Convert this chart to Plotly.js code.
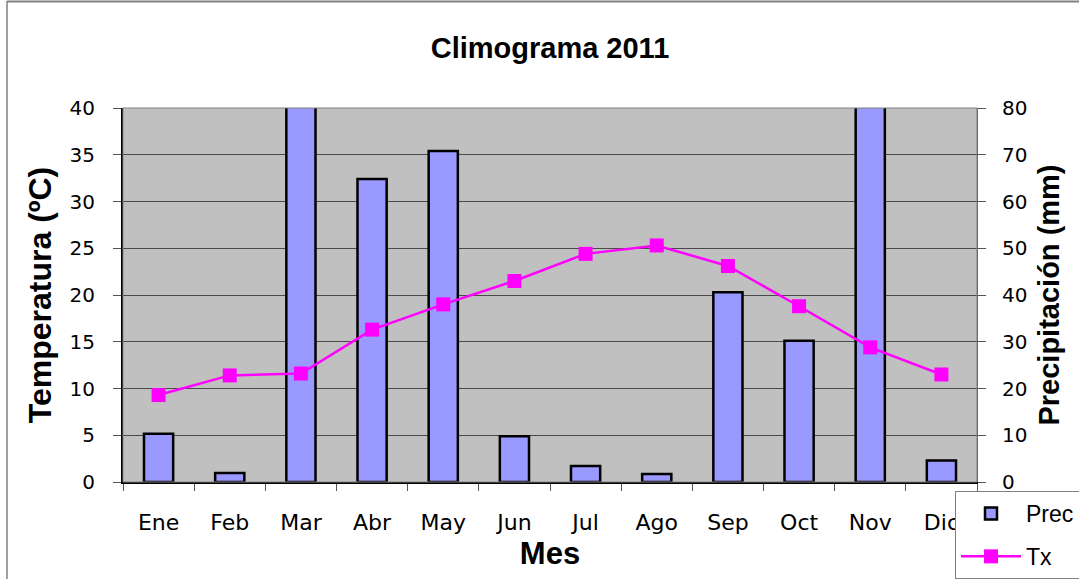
<!DOCTYPE html>
<html>
<head>
<meta charset="utf-8">
<script src="https://cdn.plot.ly/plotly-3.0.1.min.js"></script>
<style>
html,body{margin:0;padding:0;background:#fff;}
#chart{width:1079px;height:579px;}
</style>
</head>
<body>
<div id="chart"></div>
<script>
// Data
const meses = ["Ene","Feb","Mar","Abr","May","Jun","Jul","Ago","Sep","Oct","Nov","Dic"];
const prec = [10.3, 1.9, 95, 64.8, 70.8, 9.8, 3.4, 1.7, 40.6, 30.2, 92, 4.6];   // mm (Mar, Nov exceed the 80 mm axis)
const tx = [9.3, 11.4, 11.6, 16.3, 19.0, 21.5, 24.4, 25.3, 23.1, 18.8, 14.4, 11.5]; // ºC
const tempTicks = [0,5,10,15,20,25,30,35,40];
const precTicks = [0,10,20,30,40,50,60,70,80];

const yTickFont = {family: "DejaVu Sans, Verdana, sans-serif", size: 20, color: "#000"};
const xTickFont = {family: "DejaVu Sans, Verdana, sans-serif", size: 22, color: "#000"};
const titleFamily = "Liberation Sans, Arial, sans-serif";

const traces = [
  {
    type: "bar", name: "Prec", x: meses, y: prec, yaxis: "y",
    width: 0.41, legendgroup: "a",
    marker: {color: "#9999FF", line: {color: "#000", width: 2.5}},
    cliponaxis: true
  },
  {
    type: "scatter", mode: "lines+markers", name: "Tx", x: meses, y: tx, yaxis: "y2",
    legendgroup: "b",
    line: {color: "#FF00FF", width: 2.5},
    marker: {symbol: "square", size: 14, color: "#FF00FF"}
  }
];

const layout = {
  width: 1079, height: 579,
  paper_bgcolor: "#ffffff", plot_bgcolor: "#C0C0C0",
  margin: {l: 123, r: 102, t: 108, b: 97, autoexpand: false},
  title: {
    text: "<b>Climograma 2011</b>",
    font: {family: titleFamily, size: 29, color: "#000"},
    x: 0.5, xref: "paper", y: 1 - 48/579, yref: "container", yanchor: "middle"
  },
  xaxis: {
    type: "category", range: [-0.5, 11.5],
    tickson: "boundaries", ticks: "outside", ticklen: 7, tickcolor: "#555", tickwidth: 1,
    tickfont: xTickFont, ticklabelstandoff: 20,
    showline: true, linecolor: "#000", linewidth: 1.5,
    showgrid: false, zeroline: false,
    title: {text: "<b>Mes</b>", font: {family: titleFamily, size: 31, color: "#000"}, standoff: 8}
  },
  yaxis: {
    side: "right", range: [0, 80], tickvals: precTicks, ticktext: precTicks.map(String),
    ticks: "outside", ticklen: 8, tickcolor: "#555", tickwidth: 1,
    tickfont: yTickFont, ticklabelstandoff: 12,
    showgrid: true, gridcolor: "#4a4a4a", gridwidth: 1,
    zeroline: false, showline: true, linecolor: "#555", linewidth: 1,
    title: {text: "<b>Precipitación (mm)</b>", font: {family: titleFamily, size: 29, color: "#000"}, standoff: 12}
  },
  yaxis2: {
    overlaying: "y", side: "left", range: [0, 40], tickvals: tempTicks, ticktext: tempTicks.map(String),
    ticks: "outside", ticklen: 8, tickcolor: "#555", tickwidth: 1,
    tickfont: yTickFont, ticklabelstandoff: 14,
    showgrid: false, zeroline: false, showline: true, linecolor: "#000", linewidth: 2,
    title: {text: "<b>Temperatura (ºC)</b>", font: {family: titleFamily, size: 32, color: "#000"}, standoff: 8}
  },
  legend: {
    x: (955-123)/854, y: -9/374, xanchor: "left", yanchor: "top",
    bgcolor: "#ffffff", bordercolor: "#808080", borderwidth: 1,
    font: {family: titleFamily, size: 23, color: "#000"},
    itemwidth: 60, tracegroupgap: 10, traceorder: "grouped"
  },
  showlegend: true,
  shapes: [
    {type: "rect", xref: "paper", yref: "paper", x0: 0, x1: 1, y0: 0, y1: 1,
     line: {color: "#808080", width: 1}, layer: "above"},
    {type: "line", xref: "paper", yref: "paper", x0: (7-123)/854, x1: (7-123)/854, y0: (482-1)/374, y1: (482-579)/374,
     line: {color: "#808080", width: 1.5}},
    {type: "line", xref: "paper", yref: "paper", x0: (7-123)/854, x1: (1079-123)/854, y0: (482-1.5)/374, y1: (482-1.5)/374,
     line: {color: "#808080", width: 2}}
  ]
};

Plotly.newPlot("chart", traces, layout, {displayModeBar: false, staticPlot: true});
</script>
</body>
</html>
